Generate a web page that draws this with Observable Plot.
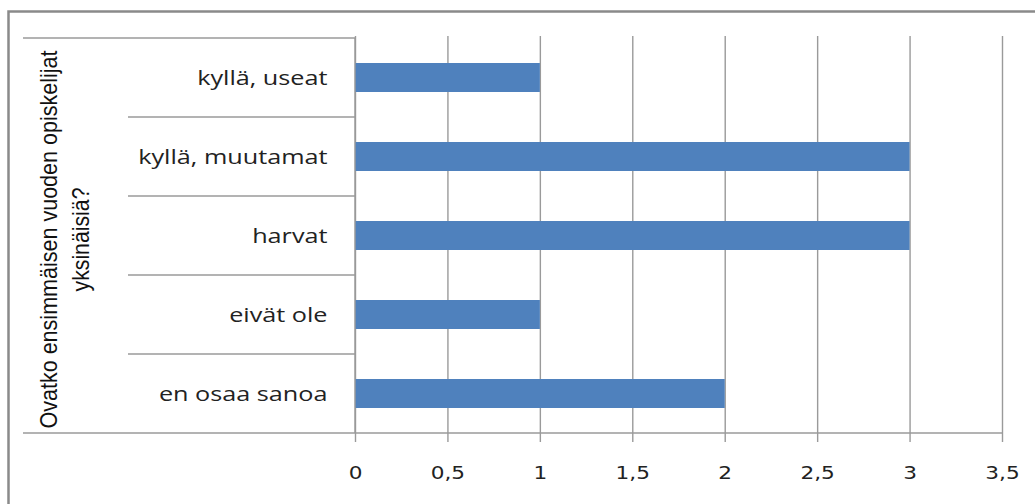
<!DOCTYPE html>
<html>
<head>
<meta charset="utf-8">
<script src="https://cdn.jsdelivr.net/npm/d3@7"></script>
<script src="https://cdn.jsdelivr.net/npm/@observablehq/plot@0.6"></script>
<style>
  html, body { margin: 0; padding: 0; background: #fff; }
  #chart svg { display: block; }
</style>
</head>
<body>
<div id="chart"></div>
<script>
const categories = ["kyllä, useat", "kyllä, muutamat", "harvat", "eivät ole", "en osaa sanoa"];
const values = [1, 3, 3, 1, 2];
const xTicks = [0, 0.5, 1, 1.5, 2, 2.5, 3, 3.5];
const titleLines = ["Ovatko ensimmäisen vuoden opiskelijat", "yksinäisiä?"];

const data = categories.map((c, i) => ({category: c, value: values[i]}));
const pIn = 0.636;

const plot = Plot.plot({
  width: 1035,
  height: 504,
  marginLeft: 355,
  marginRight: 33,
  marginTop: 36,
  marginBottom: 70,
  style: {background: "transparent", color: "#222"},
  x: {domain: [0, 3.5], ticks: xTicks},
  y: {domain: categories, paddingInner: pIn, paddingOuter: pIn / 2},
  marks: [
    Plot.gridX(xTicks, {stroke: "#9a9a9a", strokeOpacity: 1, strokeWidth: 1.4}),
    Plot.barX(data, {y: "category", x: "value", fill: "#4f81bd"}),
    Plot.axisX({
      ticks: xTicks,
      tickSize: 8,
      tickPadding: 24,
      tickFormat: d => String(d).replace(".", ","),
      fontSize: 18,
      fontFamily: "DejaVu Sans",
      stroke: "#9a9a9a",
      strokeWidth: 1.4,
      label: null
    }),
    Plot.axisY({
      tickSize: 0,
      tickPadding: 28,
      fontSize: 20.5,
      fontFamily: "Open Sans",
      label: null
    })
  ]
});

document.getElementById("chart").appendChild(plot);

const svg = d3.select(plot);
// stretch labels horizontally to mimic the wider reference glyphs
function stretch(sel, factor) {
  sel.each(function () {
    const len = this.getComputedTextLength();
    if (len > 0) {
      d3.select(this).attr("textLength", len * factor).attr("lengthAdjust", "spacingAndGlyphs");
    }
  });
}
stretch(svg.selectAll('g[aria-label="x-axis tick label"] text'), 1.2);
stretch(svg.selectAll('g[aria-label="y-axis tick label"] text'), 1.23);

const xs = plot.scale("x");
const ys = plot.scale("y");
const x0 = xs.apply(0);
const xEnd = xs.apply(3.5);
const step = ys.step;
const bounds = categories.map(c => ys.apply(c) + ys.bandwidth / 2 - step / 2);
const yTop = bounds[0];
const yBottom = ys.apply(categories[categories.length - 1]) + ys.bandwidth / 2 + step / 2;

const g = svg.append("g").attr("stroke", "#9a9a9a").attr("stroke-width", 1.4).attr("fill", "none");
g.append("line").attr("x1", 23).attr("x2", x0).attr("y1", yTop).attr("y2", yTop);
g.append("line").attr("x1", 23).attr("x2", xEnd).attr("y1", yBottom).attr("y2", yBottom);
bounds.slice(1).forEach(b => {
  g.append("line").attr("x1", 128).attr("x2", x0).attr("y1", b).attr("y2", b);
});
g.append("line").attr("x1", x0).attr("x2", x0).attr("y1", yTop).attr("y2", yBottom);

// axis title (rotated, two lines, condensed)
const yMid = (yTop + yBottom) / 2 + 4;
const title = svg.append("g")
  .attr("font-family", "Liberation Sans, sans-serif")
  .attr("font-size", 24)
  .attr("fill", "#111")
  .attr("text-anchor", "middle");
title.append("text")
  .attr("transform", `translate(57,${yMid}) rotate(-90)`)
  .attr("textLength", 378)
  .attr("lengthAdjust", "spacingAndGlyphs")
  .text(titleLines[0]);
title.append("text")
  .attr("transform", `translate(89,${yMid}) rotate(-90)`)
  .attr("textLength", 104)
  .attr("lengthAdjust", "spacingAndGlyphs")
  .text(titleLines[1]);

svg.append("rect").attr("x", 8.5).attr("y", 11.5).attr("width", 1040).attr("height", 520)
  .attr("fill", "none").attr("stroke", "#8a8a8a").attr("stroke-width", 2.5);
</script>
</body>
</html>
